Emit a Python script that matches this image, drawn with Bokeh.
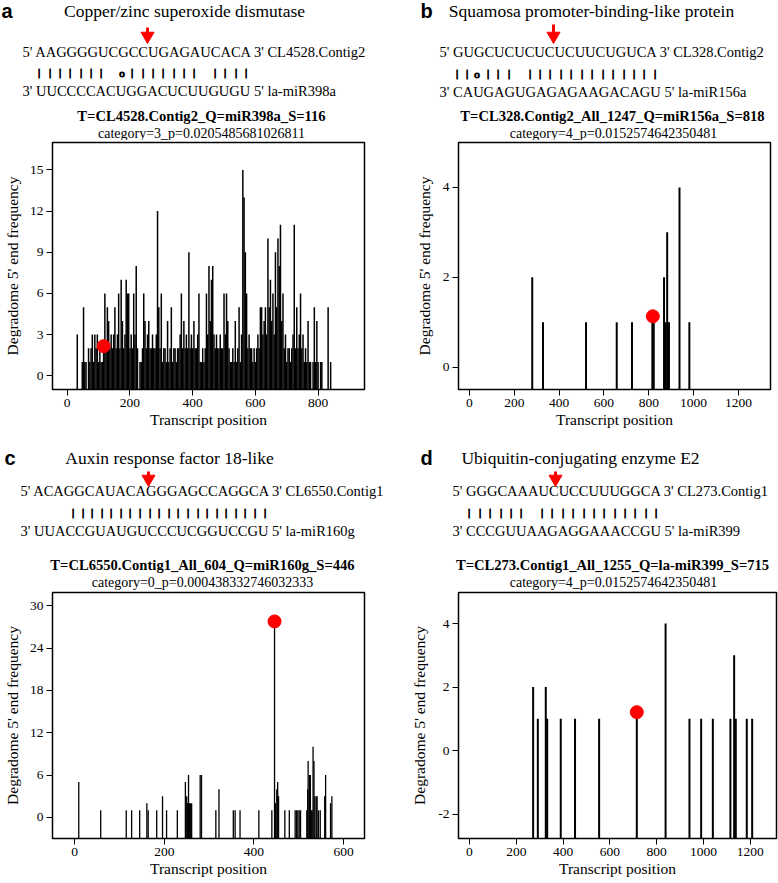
from bokeh.plotting import figure
from bokeh.layouts import column, row
from bokeh.models import FixedTicker, ColumnDataSource, Range1d
from bokeh.core.properties import value
from bokeh.embed import file_html
from bokeh.resources import INLINE

SERIF = "Liberation Serif"
SANS = "Liberation Sans"

# ---------------- data ----------------
# Panel a: degradome 5' end frequency (positions every 4 nt from 32 to 840)
a_pos = list(range(32, 844, 4))
a_val = [3, 0, 0, 0, 1, 5, 1, 1, 0, 2,
         1, 2, 3, 1, 3, 2, 3, 1, 2, 1,
         1, 2, 6, 2, 5, 4, 2, 3, 2, 3,
         5, 2, 3, 6, 2, 7, 4, 2, 3, 7,
         6, 6, 2, 3, 2, 6, 3, 8, 2, 0,
         1, 1, 2, 6, 4, 2, 3, 4, 2, 2,
         3, 2, 2, 3, 12, 5, 2, 6, 1, 2,
         2, 1, 4, 1, 2, 5, 1, 2, 2, 1,
         2, 2, 3, 6, 2, 4, 2, 3, 2, 9,
         2, 3, 2, 4, 2, 2, 3, 6, 1, 1,
         2, 1, 2, 6, 3, 8, 4, 7, 8, 3,
         2, 3, 2, 2, 3, 2, 2, 6, 3, 6,
         4, 2, 1, 1, 2, 1, 4, 1, 2, 5,
         1, 3, 15, 13, 9, 6, 2, 3, 2, 2,
         1, 2, 1, 2, 3, 2, 5, 5, 3, 4,
         5, 3, 10, 5, 7, 4, 6, 3, 9, 5,
         10, 8, 11, 4, 6, 2, 3, 1, 2, 2,
         1, 2, 3, 11, 2, 5, 2, 3, 6, 2,
         3, 1, 2, 1, 4, 1, 1, 0, 1, 5,
         1, 4, 1, 0, 1, 1, 0, 0, 0, 0,
         5, 0, 1]
a_site, a_site_y = 116, 2.16

# Panel b
b_pos = [280, 328, 520, 657, 725, 816, 822, 868, 875, 882, 890, 937, 981]
b_val = [2, 1, 1, 1, 1, 1, 1, 2, 1, 3, 1, 4, 1]
b_site, b_site_y = 818, 1.13

# Panel c
c_pos = [9, 58, 115, 127, 145, 161, 164, 183, 196, 205, 229, 247, 250, 252, 254,
         256, 258, 261, 280, 283, 315, 322, 354, 358, 369, 411, 440, 446, 448, 451,
         453, 455, 469, 479, 492, 495, 498, 501, 504, 518, 520, 521, 524, 526, 528,
         530, 532, 534, 536, 539, 541, 544, 548, 558, 560, 571, 574]
c_val = [5, 1, 1, 1, 1, 2, 1, 1, 3, 1, 1, 5, 3, 2, 6,
         2, 2, 2, 6, 6, 1, 4, 1, 1, 1, 1, 1, 27, 2, 4,
         5, 3, 1, 1, 1, 1, 1, 1, 1, 1, 4, 8, 6, 6, 1,
         1, 10, 8, 3, 3, 3, 1, 1, 3, 6, 2, 3]
c_site, c_site_y = 446, 27.8

# Panel d
d_pos = [272, 292, 326, 332, 390, 451, 554, 715, 838, 940, 990, 1040, 1115, 1131, 1138, 1185, 1208]
d_val = [2, 1, 2, 1, 1, 1, 1, 1, 4, 1, 1, 1, 1, 3, 1, 1, 1]
d_site, d_site_y = 715, 1.21

a_xticks = [0, 200, 400, 600, 800]
a_yticks = [0, 3, 6, 9, 12, 15]
b_xticks = [0, 200, 400, 600, 800, 1000, 1200]
b_yticks = [0, 2, 4]
c_xticks = [0, 200, 400, 600]
c_yticks = [0, 6, 12, 18, 24, 30]
d_xticks = [0, 200, 400, 600, 800, 1000, 1200]
d_yticks = [-2, 0, 2, 4]

panels = [
    dict(letter="a", title="Copper/zinc superoxide dismutase",
         seq1="5' AAGGGGUCGCCUGAGAUCACA 3' CL4528.Contig2",
         pair="|||||||.o|||||||.||||",
         seq2="3' UUCCCCACUGGACUCUUGUGU 5' la-miR398a",
         bold="T=CL4528.Contig2_Q=miR398a_S=116",
         cat="category=3_p=0.0205485681026811"),
    dict(letter="b", title="Squamosa promoter-binding-like protein",
         seq1="5' GUGCUCUCUCUCUUCUGUCA 3' CL328.Contig2",
         pair="||o|||.|||||||||||||",
         seq2="3' CAUGAGUGAGAGAAGACAGU 5' la-miR156a",
         bold="T=CL328.Contig2_All_1247_Q=miR156a_S=818",
         cat="category=4_p=0.0152574642350481"),
    dict(letter="c", title="Auxin response factor 18-like",
         seq1="5' ACAGGCAUACAGGGAGCCAGGCA 3' CL6550.Contig1",
         pair="|||||||||||||||||||||",
         seq2="3' UUACCGUAUGUCCCUCGGUCCGU 5' la-miR160g",
         bold="T=CL6550.Contig1_All_604_Q=miR160g_S=446",
         cat="category=0_p=0.000438332746032333"),
    dict(letter="d", title="Ubiquitin-conjugating enzyme E2",
         seq1="5' GGGCAAAUCUCCUUUGGCA 3' CL273.Contig1",
         pair="||||||.||||||||||||",
         seq2="3' CCCGUUAAGAGGAAACCGU 5' la-miR399",
         bold="T=CL273.Contig1_All_1255_Q=la-miR399_S=715",
         cat="category=4_p=0.0152574642350481"),
]


def make_panel(pos, val, site, site_y, xticks, yticks, xr, yr, lw,
               width, height, bl, br, bt, bb, ylab_standoff):
    p = figure(width=width, height=height, x_range=Range1d(*xr), y_range=Range1d(*yr),
               output_backend="svg", toolbar_location=None,
               min_border_left=bl, min_border_right=br, min_border_top=bt, min_border_bottom=bb,
               background_fill_color="white", border_fill_color="white")
    p.xgrid.visible = False
    p.ygrid.visible = False
    p.outline_line_color = "black"
    p.outline_line_width = 1.5
    p.outline_line_alpha = 1.0
    for ax in (p.xaxis[0], p.yaxis[0]):
        ax.axis_line_color = None
        ax.major_tick_out = 6
        ax.major_tick_in = 0
        ax.minor_tick_out = 0
        ax.minor_tick_in = 0
        ax.major_tick_line_color = "black"
        ax.major_tick_line_width = 1
        ax.major_label_text_font = SERIF
        ax.major_label_text_font_size = "13.5px"
        ax.major_label_text_color = "black"
        ax.axis_label_text_font = SERIF
        ax.axis_label_text_font_size = "15.5px"
        ax.axis_label_text_font_style = "normal"
        ax.axis_label_text_color = "black"
        ax.major_label_standoff = 3
    p.xaxis.axis_label = "Transcript position"
    p.yaxis.axis_label = "Degradome 5' end frequency"
    p.xaxis.axis_label_standoff = 1
    p.yaxis.axis_label_standoff = ylab_standoff
    p.xaxis.ticker = FixedTicker(ticks=xticks)
    p.yaxis.ticker = FixedTicker(ticks=yticks)
    p.yaxis.major_label_overrides = {t: str(t) for t in yticks}

    xs = [x for x, v in zip(pos, val) if v > 0]
    ys = [v for v in val if v > 0]
    src = ColumnDataSource(dict(x=xs, y=ys))
    p.segment(x0="x", y0=yr[0], x1="x", y1="y", source=src, line_color="black", line_width=lw)
    p.scatter(x=[site], y=[site_y], size=13, fill_color="#ff0000", line_color="#ff0000")
    return p


def make_header(width, height, left, top, info, L):
    h = figure(width=width, height=height, x_range=Range1d(0, width), y_range=Range1d(height, 0),
               output_backend="svg", toolbar_location=None,
               x_axis_location=None, y_axis_location=None,
               min_border_left=0, min_border_right=0, min_border_top=0, min_border_bottom=0,
               background_fill_color="white", border_fill_color="white", outline_line_color=None)
    h.xgrid.visible = False
    h.ygrid.visible = False

    def txt(key, text, align="left", font=SERIF, size="14.5px", style="normal"):
        X, Y = L[key]
        h.text(x=[X - left], y=[Y - top], text=[text], text_align=align, text_baseline="middle",
               text_font=value(font), text_font_size=value(size), text_font_style=style,
               text_color="black")

    txt("letter", info["letter"], font=SANS, size="20px", style="bold")
    txt("title", info["title"], align="center", size="17.5px")
    txt("seq1", info["seq1"])
    txt("seq2", info["seq2"])
    txt("bold", info["bold"], align="center", size="14.6px", style="bold")
    txt("cat", info["cat"], align="center", size="14px")

    # base-pairing marks, one per nucleotide slot (snapped to whole pixels)
    x0, y0, pitch = L["pair"]
    bx, bt, ox, ot = [], [], [], []
    for i, ch in enumerate(info["pair"]):
        xpix = round(x0 - left + i * pitch) + 0.5
        if ch == "|":
            bx.append(xpix)
            bt.append(ch)
        elif ch == "o":
            ox.append(xpix)
            ot.append(ch)
    h.text(x=bx, y=[y0 - top] * len(bx), text=bt, text_align="center", text_baseline="middle",
           text_font=value(SERIF), text_font_size=value("11px"),
           text_color="black", text_outline_color="black")
    if ox:
        h.text(x=ox, y=[y0 - top + 1] * len(ox), text=ot, text_align="center", text_baseline="middle",
               text_font=value(SERIF), text_font_size=value("11px"), text_color="black",
               text_outline_color="black")

    ax, ay0, ay1 = L["arrow"]
    h.segment(x0=[ax - left], y0=[ay0 - top], x1=[ax - left], y1=[ay1 - top - 8],
              line_color="#ff0000", line_width=3)
    h.scatter(x=[ax - left], y=[ay1 - top - 7.5], marker="inverted_triangle", size=13,
              fill_color="#ff0000", line_color="#ff0000")
    return h


# text layout (page coordinates, same as reference pixels)
L_a = dict(letter=(1, 10), title=(184, 10), arrow=(147, 27, 43), seq1=(22, 51),
           pair=(38.5, 71, 10.33), seq2=(22, 90), bold=(201, 115), cat=(201, 133))
L_b = dict(letter=(420, 10), title=(591, 10), arrow=(553, 24, 43), seq1=(439, 51),
           pair=(455.5, 72, 10.44), seq2=(439, 91), bold=(612, 115), cat=(613, 133))
L_c = dict(letter=(4, 457), title=(169, 457), arrow=(148, 471, 486), seq1=(20, 490),
           pair=(72, 511, 9.58), seq2=(20, 530), bold=(202, 564), cat=(202, 582))
L_d = dict(letter=(420, 457), title=(580, 457), arrow=(555, 471, 486), seq1=(452, 490),
           pair=(468.5, 511, 10.37), seq2=(452, 530), bold=(612, 564), cat=(613, 582))

ha = make_header(390, 140, 0, 0, panels[0], L_a)
hb = make_header(388, 140, 390, 0, panels[1], L_b)
hc = make_header(390, 150, 0, 440, panels[2], L_c)
hd = make_header(388, 150, 390, 440, panels[3], L_d)

pa = make_panel(a_pos, a_val, a_site, a_site_y, a_xticks, a_yticks, (-47, 948), (-1.0, 17.0), 1.5,
                390, 300, 46, 26, 2, 51, 6)
pb = make_panel(b_pos, b_val, b_site, b_site_y, b_xticks, b_yticks, (-49, 1343), (-0.5, 5.0), 2,
                388, 300, 68, 8, 2, 51, 7)
pc = make_panel(c_pos, c_val, c_site, c_site_y, c_xticks, c_yticks, (-49.6, 646.8), (-3.0, 31.9), 1.3,
                390, 292, 46, 26, 2, 44, 6)
pd = make_panel(d_pos, d_val, d_site, d_site_y, d_xticks, d_yticks, (-47, 1312), (-2.77, 4.98), 2,
                388, 292, 68, 2, 2, 44, 7)

lay = column(row(ha, hb), row(pa, pb), row(hc, hd), row(pc, pd))
open("out.html", "w").write(file_html(lay, INLINE))
